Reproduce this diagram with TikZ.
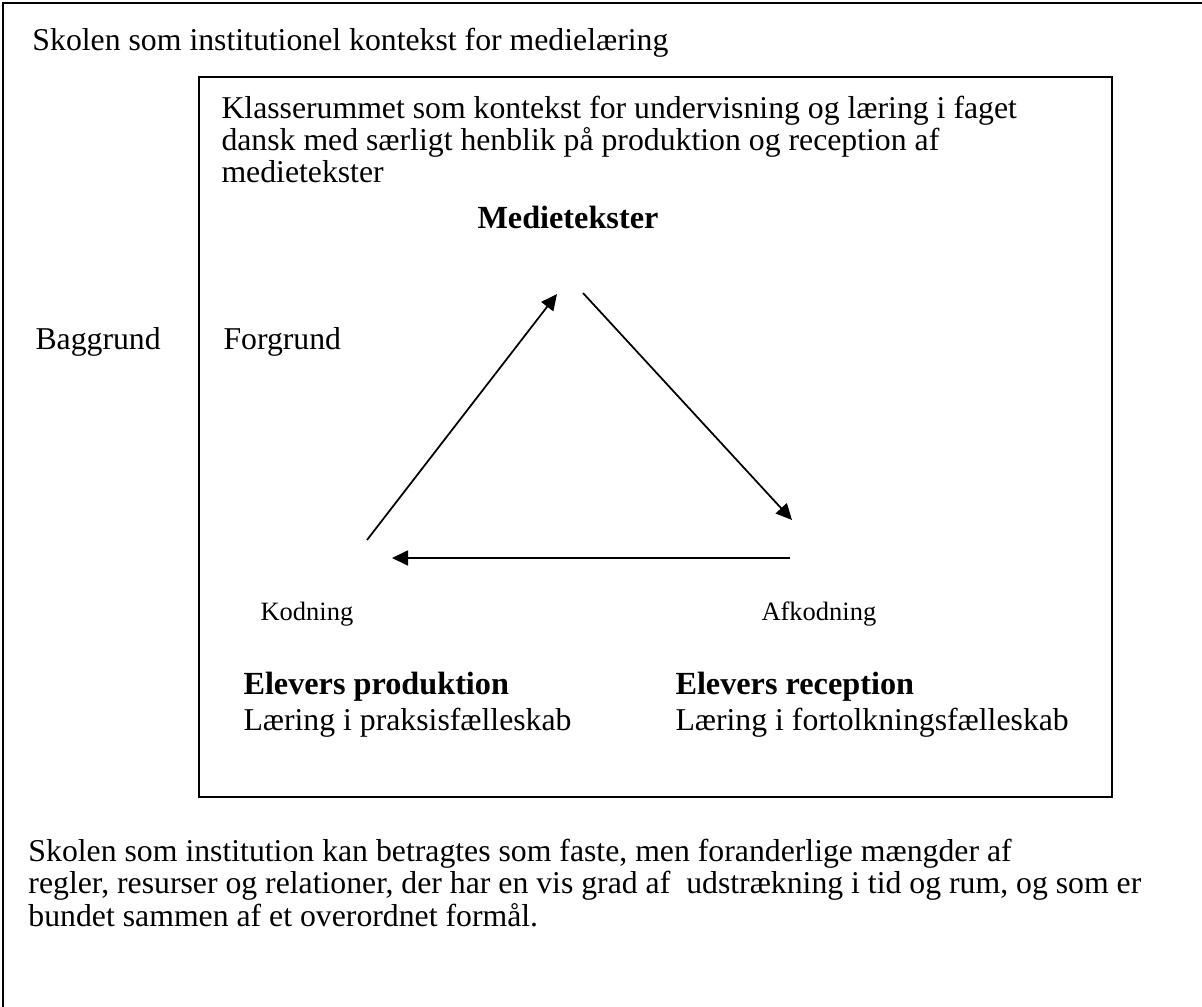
\documentclass[tikz,border=0pt]{standalone}
\usepackage{fontspec}
\setmainfont{Liberation Serif}
\usetikzlibrary{arrows.meta}

\begin{document}
\begin{tikzpicture}[x=0.4pt,y=-0.4pt,
    txt/.style={anchor=base west,inner sep=0pt,font=\fontsize{12.7}{13}\selectfont},
    head/.style={txt,font=\fontsize{12.9}{13}\selectfont\bfseries},
    lab/.style={anchor=base west,inner sep=0pt,font=\fontsize{10.6}{12}\selectfont},
    arr/.style={line width=0.7pt,-{Triangle[length=6.4pt,width=6pt]}}]
  \useasboundingbox (0,0) rectangle (1202,1007);
  % outer frame (runs off the page right and below)
  \draw[line width=0.8pt] (3,1012) -- (3,3) -- (1206,3);
  \node[txt] (skolen) at (32,50) {Skolen som institutionel kontekst for medielæring};
  % classroom frame
  \draw[line width=0.8pt] (199,77) rectangle (1112,797);
  \node[txt] (klasse1) at (221,118) {Klasserummet som kontekst for undervisning og læring i faget};
  \node[txt] (klasse2) at (221,150) {dansk med særligt henblik på produktion og reception af};
  \node[txt] (klasse3) at (221,182) {medietekster};
  \node[head] (medie) at (477,228) {Medietekster};
  \node[txt] (baggrund) at (35,349) {Baggrund};
  \node[txt] (forgrund) at (223,349) {Forgrund};
  % triangle
  \coordinate (kodA) at (367,540);
  \coordinate (topA) at (557,294);
  \coordinate (topB) at (583,293);
  \coordinate (afkA) at (792,520);
  \coordinate (afkB) at (790,558);
  \coordinate (kodB) at (392,558);
  \draw[arr] (kodA) -- (topA);
  \draw[arr] (topB) -- (afkA);
  \draw[arr] (afkB) -- (kodB);
  \node[lab] (kodning) at (260,620) {Kodning};
  \node[lab] (afkodning) at (761,620) {Afkodning};
  \node[head] (prod) at (243,694) {Elevers produktion};
  \node[txt] (praksis) at (243,730) {Læring i praksisfælleskab};
  \node[head] (recep) at (675,694) {Elevers reception};
  \node[txt] (fortolk) at (675,730) {Læring i fortolkningsfælleskab};
  % institution text
  \node[txt] (inst1) at (28,861) {Skolen som institution kan betragtes som faste, men foranderlige mængder af};
  \node[txt] (inst2) at (28,893) {regler, resurser og relationer, der har en vis grad af\ \ udstrækning i tid og rum, og som er};
  \node[txt] (inst3) at (28,926) {bundet sammen af et overordnet formål.};
\end{tikzpicture}
\end{document}
